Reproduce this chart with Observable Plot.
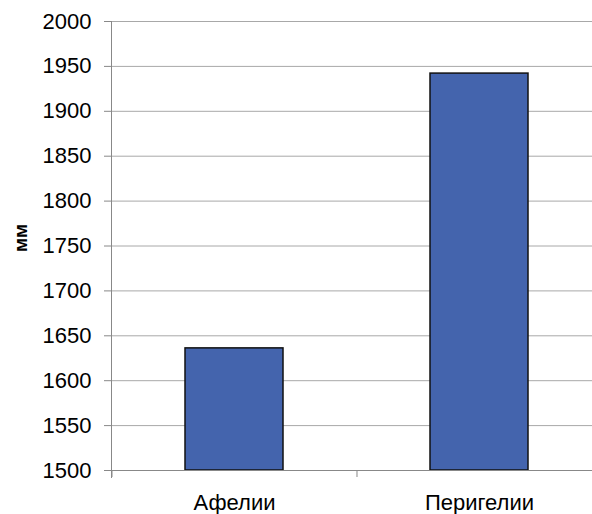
<!DOCTYPE html>
<html>
<head>
<meta charset="utf-8">
<script src="https://cdn.jsdelivr.net/npm/d3@7"></script>
<script src="https://cdn.jsdelivr.net/npm/@observablehq/plot@0.6"></script>
<style>
  html, body { margin: 0; padding: 0; background: #fff; }
  #chart svg { display: block; }
</style>
</head>
<body>
<div id="chart"></div>
<script>
const categories = ["Афелии", "Перигелии"];
const values = [1636, 1942];
const yTicks = [1500, 1550, 1600, 1650, 1700, 1750, 1800, 1850, 1900, 1950, 2000];
const yLabel = "мм";

const data = categories.map((c, i) => ({category: c, value: values[i]}));

const W = 592, H = 514;
const mLeft = 111, mTop = 21, mBottom = 44;
const xRange = [111, 602];
const padInner = 0.6, padOuter = 0.302;
const step = (xRange[1] - xRange[0]) / (categories.length - padInner + 2 * padOuter);
const font = "Liberation Sans, Arial, Helvetica, sans-serif";

const chart = Plot.plot({
  width: W,
  height: H,
  marginLeft: mLeft,
  marginRight: 0,
  marginTop: mTop,
  marginBottom: mBottom,
  style: {fontFamily: font, fontSize: "22px", color: "#000", background: "#fff"},
  x: {domain: categories, range: xRange, paddingInner: padInner, paddingOuter: padOuter, label: null},
  y: {domain: [1500, 2000], label: null},
  marks: [
    Plot.ruleY(yTicks, {stroke: "#a8a8a8", strokeWidth: 1}),
    Plot.barY(data, {x: "category", y1: 1500, y2: "value", fill: "#4464ad", stroke: "#111", strokeWidth: 1.5}),
    Plot.frame({anchor: "left", stroke: "#888", insetBottom: -7}),
    Plot.ruleY([1500], {stroke: "#888"}),
    Plot.axisY({ticks: yTicks, tickFormat: "d", tickSize: 7, tickPadding: 13, stroke: "#888", fill: "#000", fontSize: 22, label: null}),
    Plot.axisX({tickSize: 0, tickPadding: 24, fontSize: 22, label: null}),
    Plot.axisX({tickSize: 7, stroke: "#888", tickFormat: () => "", dx: -step / 2, label: null}),
    Plot.text([yLabel], {frameAnchor: "left", dx: -91, dy: 6, rotate: -90, fontWeight: "bold", fontSize: 19})
  ]
});
document.getElementById("chart").appendChild(chart);
</script>
</body>
</html>
